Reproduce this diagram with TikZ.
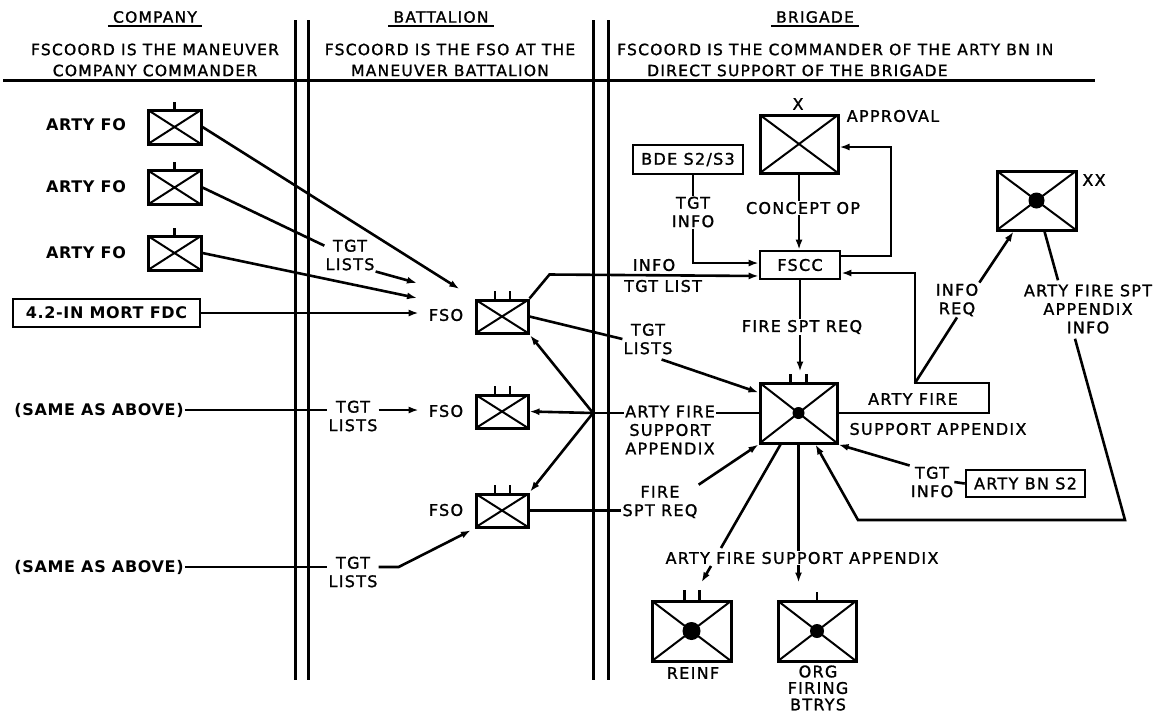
\documentclass[tikz,border=0pt]{standalone}
\usepackage{fontspec}
\setmainfont{DejaVu Sans}[LetterSpace=8, FakeBold=1.3]
\newfontfamily\boldlbl{DejaVu Sans}[LetterSpace=4]
\usetikzlibrary{arrows.meta,calc}
\tikzset{
  lbl/.style={font=\fontsize{16}{18.5}\selectfont, inner sep=1pt, align=center},
  hlbl/.style={font=\fontsize{15.5}{21}\selectfont, inner sep=1pt, align=center},
  blbl/.style={lbl, font=\boldlbl\fontsize{16}{18.5}\selectfont\bfseries},
  conn/.style={line width=2.6pt},
  arr/.style={conn, -{Latex[length=10pt,width=7pt]}},
  unitbox/.style={draw, line width=3pt, inner sep=0pt, path picture={\draw[line width=2pt] (path picture bounding box.north west) -- (path picture bounding box.south east) (path picture bounding box.south west) -- (path picture bounding box.north east);}},
  dotbox/.style={unitbox, path picture={\draw[line width=2pt] (path picture bounding box.north west) -- (path picture bounding box.south east) (path picture bounding box.south west) -- (path picture bounding box.north east); \fill (path picture bounding box.center) circle (#1);}},
  txtbox/.style={lbl, draw, line width=2.6pt, inner sep=0pt},
  tickline/.style={line width=2.2pt},
  divider/.style={line width=3pt},
  underl/.style={line width=1.8pt},
}
\begin{document}
\begin{tikzpicture}[x=1pt,y=-1pt]
\useasboundingbox (0,0) rectangle (1172,716);
% ---------- header ----------
\node[hlbl] (hcomp) at (155,17) {COMPANY};
\node[hlbl] (hcomp2) at (155,60) {FSCOORD IS THE MANEUVER\\COMPANY COMMANDER};
\node[hlbl] (hbn) at (441,17) {BATTALION};
\node[hlbl] (hbn2) at (450,60) {FSCOORD IS THE FSO AT THE\\MANEUVER BATTALION};
\node[hlbl] (hbde) at (815,17) {BRIGADE};
\node[hlbl, align=left, anchor=west] (hbde2) at (616,60) {FSCOORD IS THE COMMANDER OF THE ARTY BN IN\\\hspace{30pt}DIRECT SUPPORT OF THE BRIGADE};
\draw[underl] ($(hcomp.south west)+(-4,2)$) -- ($(hcomp.south east)+(4,2)$);
\draw[underl] ($(hbn.south west)+(-4,2)$) -- ($(hbn.south east)+(4,2)$);
\draw[underl] ($(hbde.south west)+(-4,2)$) -- ($(hbde.south east)+(4,2)$);
\coordinate (hl1) at (3,80);
\coordinate (hl2) at (1095,80);
\draw[divider] (hl1) -- (hl2);
\foreach \xx/\nm in {295/va,308/vb,593/vc,608/vd}{
  \coordinate (\nm1) at (\xx,20);
  \coordinate (\nm2) at (\xx,680);
  \draw[divider] (\nm1) -- (\nm2);
}
% ---------- company column ----------
\node[blbl] (fol1) at (86,125) {ARTY FO};
\node[blbl] (fol2) at (86,187) {ARTY FO};
\node[blbl] (fol3) at (86,253) {ARTY FO};
\node[unitbox, minimum width=53pt, minimum height=34pt] (fo1) at (174.5,127) {};
\node[unitbox, minimum width=53pt, minimum height=34pt] (fo2) at (174.5,187.5) {};
\node[unitbox, minimum width=53pt, minimum height=34pt] (fo3) at (174.5,253) {};
\foreach \n in {fo1,fo2,fo3}{\draw[tickline] (\n.north) -- ++(0,-7);}
\node[txtbox, font=\boldlbl\fontsize{16}{18.5}\selectfont\bfseries, minimum width=187pt, minimum height=28pt] (fdc) at (106.5,313) {4.2-IN MORT FDC};
\node[blbl] (same1) at (99,410) {(SAME AS ABOVE)};
\node[blbl] (same2) at (99,567) {(SAME AS ABOVE)};
\node[lbl] (tl1) at (350,255) {TGT\\LISTS};
\node[lbl] (tl2) at (353,416) {TGT\\LISTS};
\node[lbl] (tl3) at (353,572) {TGT\\LISTS};
% ---------- battalion column ----------
\node[lbl] (fsol1) at (446,315) {FSO};
\node[lbl] (fsol2) at (446,411) {FSO};
\node[lbl] (fsol3) at (446,510) {FSO};
\node[unitbox, minimum width=52pt, minimum height=33pt] (fso1) at (502,316.5) {};
\node[unitbox, minimum width=52pt, minimum height=33pt] (fso2) at (502,411.5) {};
\node[unitbox, minimum width=52pt, minimum height=33pt] (fso3) at (502,510.5) {};
\foreach \n in {fso1,fso2,fso3}{
  \draw[tickline] ($(\n.north)+(-7,0)$) -- ++(0,-8);
  \draw[tickline] ($(\n.north)+(8,0)$) -- ++(0,-8);
}
% ---------- brigade column ----------
\node[unitbox, minimum width=78pt, minimum height=58pt] (approval) at (799,144) {};
\node[lbl] (xmark) at (798,104) {X};
\node[lbl] (apl) at (893,116) {APPROVAL};
\node[txtbox, minimum width=110pt, minimum height=29pt] (bde) at (688,159.5) {BDE S2/S3};
\node[lbl] (tgtinfo1) at (693,212) {TGT\\INFO};
\node[lbl] (concept) at (803,208) {CONCEPT OP};
\node[txtbox, minimum width=80pt, minimum height=28pt] (fscc) at (800,265) {FSCC};
\node[lbl] (info1) at (654,265) {INFO};
\node[lbl] (tgtlist) at (663,286) {TGT LIST};
\node[lbl] (fsr2) at (802,327) {FIRE SPT REQ};
\node[lbl] (tl4) at (648,339) {TGT\\LISTS};
\node[dotbox=6pt, minimum width=77pt, minimum height=60pt] (central) at (798.5,413) {};
\draw[tickline] ($(central.north)+(-8,0)$) -- ++(0,-8);
\draw[tickline] ($(central.north)+(8,0)$) -- ++(0,-8);
\node[lbl] (afsa1) at (670,430) {ARTY FIRE\\SUPPORT\\APPENDIX};
\node[lbl] (fsr1) at (660,502) {FIRE\\SPT REQ};
\node[lbl] (artyfire) at (913,399) {ARTY FIRE};
\node[lbl] (supapp) at (938,429) {SUPPORT APPENDIX};
\node[dotbox=8pt, minimum width=79pt, minimum height=59pt] (xx) at (1036.5,200.5) {};
\node[lbl] (xxl) at (1094,180) {XX};
\node[lbl] (inforeq) at (957,300) {INFO\\REQ};
\node[lbl] (afspt) at (1088,309) {ARTY FIRE SPT\\APPENDIX\\INFO};
\node[lbl] (tgtinfo2) at (932,482) {TGT\\INFO};
\node[txtbox, minimum width=119pt, minimum height=27pt] (bns2) at (1025.5,483.5) {ARTY BN S2};
\node[lbl] (afsa2) at (802,558) {ARTY FIRE SUPPORT APPENDIX};
\node[dotbox=9pt, minimum width=79pt, minimum height=60pt] (reinf) at (691.5,631) {};
\draw[tickline] ($(reinf.north)+(-7,0)$) -- ++(0,-10);
\draw[tickline] ($(reinf.north)+(8,0)$) -- ++(0,-10);
\node[lbl] (reinfl) at (693,673) {REINF};
\node[dotbox=7pt, minimum width=78pt, minimum height=60pt] (org) at (817,631) {};
\draw[tickline] (org.north) -- ++(0,-8);
\node[lbl, font=\fontsize{16}{16.5}\selectfont] (orgl) at (818,688) {ORG\\FIRING\\BTRYS};
% ---------- connectors: company ----------
\draw[arr, shorten >=18pt] (fo1.east) -- (fso1.north west);
\draw[conn] (fo2.east) -- (tl1.160);
\coordinate (fsoA) at (417,283);
\coordinate (fsoB) at (417,298);
\draw[arr] (tl1.south east) -- (fsoA);
\draw[arr] (fo3.east) -- (fsoB);
\draw[arr, shorten >=9pt] (fdc.east) -- (fsol1.west |- fdc.east);
\draw[conn] (same1.east) -- (same1.east -| tl2.west);
\draw[arr, shorten >=9pt] (tl2.east |- same1.east) -- (fsol2.west |- same1.east);
\draw[conn] (same2.east) -- (same2.east -| tl3.west);
\draw[arr, shorten >=4pt] (tl3.east |- same2.east) -- ++(20,0) -- (fso3.south west);
% ---------- connectors: battalion / brigade ----------
\coordinate (fsccW1) at ($(fscc.west)+(0,-2)$);
\coordinate (fsccW2) at ($(fscc.west)+(0,11)$);
\draw[arr] (fso1.north east) -- ++(20,-24) -- (fsccW2);
\draw[conn] (fso1.east) -- (tl4.west);
\coordinate (cW1) at ($(central.north west)+(0,11)$);
\draw[arr] ($(tl4.south east)+(-12,4)$) -- (cW1);
\coordinate (J) at (593,413);
\draw[arr, shorten >=1pt] (J) -- (fso1.south east);
\draw[arr] (J) -- (fso2.east);
\draw[arr, shorten >=1pt] (J) -- (fso3.north east);
\draw[conn] (J) -- (J -| afsa1.west);
\draw[conn] (J -| afsa1.east) -- (central.west);
\draw[conn] (fso3.east) -- (fso3.east -| fsr1.west);
\draw[arr] (fsr1.north east) -- (central.south west);
% approval and BDE
\draw[conn] (approval.south) -- (concept.north -| approval.south);
\draw[arr] (concept.south -| approval.south) -- (fscc.north -| approval.south);
\coordinate (fsccE1) at ($(fscc.east)+(0,-9)$);
\coordinate (apE) at ($(approval.east)+(0,3)$);
\coordinate (lp) at (891,200);
\draw[arr] (fsccE1) -- (fsccE1 -| lp) -- (apE -| lp) -- (apE);
\draw[conn] (tgtinfo1 |- bde.south) -- (tgtinfo1.north);
\draw[arr] (tgtinfo1.south) |- (fsccW1);
% fscc down to central
\draw[conn] (fscc.south) -- (fscc.south |- fsr2.north);
\draw[arr, shorten >=10pt] (fscc.south |- fsr2.south) -- (fscc.south |- central.north);
% right loop
\coordinate (r1) at (989,383);
\coordinate (r2) at (915,383);
\coordinate (fsccE2) at ($(fscc.east)+(0,8)$);
\draw[arr] (central.east) -| (r1) -- (r2) |- (fsccE2);
\draw[conn] (r2) -- (inforeq.south);
\coordinate (xxB) at ($(xx.south west)+(18,0)$);
\draw[arr] (inforeq.north east) -- (xxB);
\coordinate (xxC) at ($(xx.south)+(8,0)$);
\coordinate (afT) at ($(afspt.north)+(-30,-3)$);
\draw[conn] (xxC) -- (afT);
\coordinate (afB) at ($(afspt.south)+(-13,4)$);
\coordinate (b1) at (1125,520);
\coordinate (b2) at (858,520);
\coordinate (cS2) at ($(central.south)+(17,0)$);
\draw[arr] (afB) -- (b1) -- (b2) -- (cS2);
\draw[arr] (tgtinfo2.north west) -- (central.south east);
\draw[conn] (tgtinfo2.east) -- (bns2.west);
% bottom
\coordinate (cS1) at ($(central.south)+(-18,0)$);
\coordinate (d1) at (721,548);
\coordinate (d2) at (711,566);
\draw[conn] (cS1) -- (d1);
\draw[arr, shorten >=20pt] (d2) -- (reinf.north);
\draw[conn] (central.south) -- (central.south |- afsa2.north);
\draw[arr, shorten >=17pt] (central.south |- afsa2.south) -- (central.south |- org.north);
\end{tikzpicture}
\end{document}
